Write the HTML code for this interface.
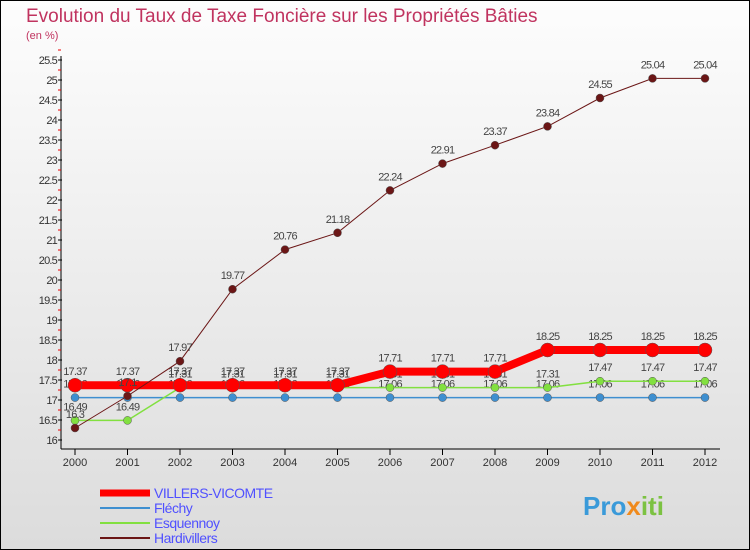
<!DOCTYPE html>
<html><head><meta charset="utf-8"><style>
body{margin:0;width:750px;height:550px;overflow:hidden;font-family:"Liberation Sans",sans-serif}
svg{display:block}
</style></head><body>
<svg id="c" width="750" height="550" xmlns="http://www.w3.org/2000/svg">
<defs><linearGradient id="bg" x1="0" y1="0" x2="0" y2="1"><stop offset="0" stop-color="#fdfdfd"/><stop offset="1" stop-color="#dcdcdc"/></linearGradient></defs>
<rect x="0.5" y="0.5" width="749" height="549" fill="url(#bg)" stroke="#000"/>
<text x="26" y="22" font-size="19" fill="#c0335f">Evolution du Taux de Taxe Foncière sur les Propriétés Bâties</text>
<text x="26" y="39" font-size="11" fill="#c0335f">(en %)</text>
<g id="axes"></g><g id="series"></g><g id="legend"></g>
<text x="583" y="515" font-size="26" font-weight="bold" fill="#3a9ad9">Pro<tspan fill="#f08a1c">x</tspan><tspan fill="#7cc242">iti</tspan></text>
</svg>
<script>
const years=[2000,2001,2002,2003,2004,2005,2006,2007,2008,2009,2010,2011,2012];
const yTicks=[16,16.5,17,17.5,18,18.5,19,19.5,20,20.5,21,21.5,22,22.5,23,23.5,24,24.5,25,25.5];
const villers=[17.37,17.37,17.37,17.37,17.37,17.37,17.71,17.71,17.71,18.25,18.25,18.25,18.25];
const flechy=[17.06,17.06,17.06,17.06,17.06,17.06,17.06,17.06,17.06,17.06,17.06,17.06,17.06];
const esquennoy=[16.49,16.49,17.31,17.31,17.31,17.31,17.31,17.31,17.31,17.31,17.47,17.47,17.47];
const hardivillers=[16.3,17.1,17.97,19.77,20.76,21.18,22.24,22.91,23.37,23.84,24.55,25.04,25.04];
const NS="http://www.w3.org/2000/svg";
const X=i=>75+i*52.5, Y=v=>440-(v-16)*40;
function mk(p,t,a){const e=document.createElementNS(NS,t);for(const k in a)e.setAttribute(k,a[k]);p.appendChild(e);return e;}
const ax=document.getElementById('axes');
mk(ax,'line',{x1:61,y1:56,x2:61,y2:449,stroke:'#000'});
mk(ax,'line',{x1:61,y1:449,x2:720,y2:449,stroke:'#000'});
yTicks.forEach(v=>{
 mk(ax,'line',{x1:58,y1:Y(v),x2:62,y2:Y(v),stroke:'#000'});
 mk(ax,'line',{x1:58,y1:Y(v+0.25),x2:61,y2:Y(v+0.25),stroke:'#e00'});
 const t=mk(ax,'text',{x:57,y:Y(v)+4,'font-size':11,'text-anchor':'end',fill:'#333','letter-spacing':'-0.8'});t.textContent=v;
 
 
});
years.forEach((y,i)=>{
 mk(ax,'line',{x1:X(i),y1:449,x2:X(i),y2:455,stroke:'#000'});
 const t=mk(ax,'text',{x:X(i),y:466,'font-size':11,'text-anchor':'middle',fill:'#333'});t.textContent=y;
 
 
});
const sg=document.getElementById('series');
function series(d,color,w,r,name,labels){
 const g=mk(sg,'g',{});
 
 
 mk(g,'polyline',{points:d.map((v,i)=>X(i)+','+Y(v)).join(' '),fill:'none',stroke:color,'stroke-width':w});
 d.forEach((v,i)=>{const c=mk(g,'circle',{cx:X(i),cy:Y(v),r:r,fill:color,stroke:'#555','stroke-width':0.5});
  
  
  if(labels){const t=mk(g,'text',{x:X(i),y:Y(v)-10,'font-size':11,'text-anchor':'middle',fill:'#444','letter-spacing':'-0.8'});t.textContent=v;
  
  }
 });
}
series(flechy,'#3e8fd0',1.5,4,'flechy-series',true);
series(esquennoy,'#82e040',1.5,4,'esquennoy-series',true);
series(villers,'#ff0000',8,7,'villers-series',true);
series(hardivillers,'#6b1616',1,4,'hardivillers-series',true);
const lg=document.getElementById('legend');
const names=['VILLERS-VICOMTE','Fléchy','Esquennoy','Hardivillers'],cols=['#ff0000','#3e8fd0','#82e040','#6b1616'],ws=[7,2,2,2];
names.forEach((n,i)=>{const y=493+i*15;
 const l=mk(lg,'line',{x1:100,y1:y,x2:150,y2:y,stroke:cols[i],'stroke-width':ws[i]});
 
 
 const t=mk(lg,'text',{x:154,y:y+5,'font-size':14,fill:'#5050ff','letter-spacing':'-0.5'});t.textContent=n;
 
 
});
</script>
</body></html>
